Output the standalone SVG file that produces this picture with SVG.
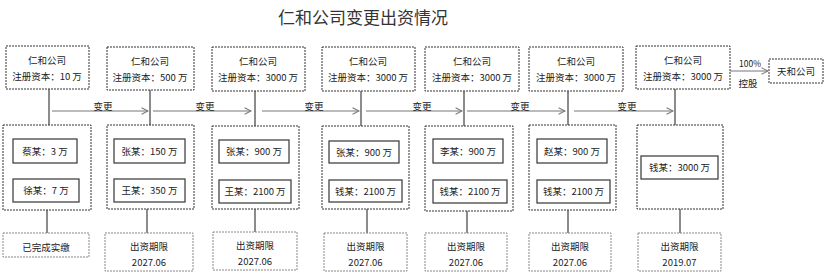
<svg xmlns="http://www.w3.org/2000/svg" width="830" height="275" viewBox="0 0 830 275">
<defs>
<style>
text{font-family:"Noto Sans CJK SC","Liberation Sans",sans-serif;font-size:9.5px;fill:#222;text-anchor:middle}
.title{font-size:17px;fill:#333}
.dbox{fill:#fff;stroke:#333;stroke-width:1;stroke-dasharray:2 1}
.gbox{fill:#fff;stroke:#888;stroke-width:1;stroke-dasharray:2 1}
.ibox{fill:#fff;stroke:#444;stroke-width:1.3}
.vl{stroke:#666;stroke-width:1.5;fill:none}
.ar{stroke:#777;stroke-width:1;fill:none;marker-end:url(#ah)}
</style>
<marker id="ah" viewBox="0 0 10 10" refX="9" refY="5" markerWidth="8" markerHeight="8" markerUnits="userSpaceOnUse" orient="auto">
<path d="M1,1 L9,5 L1,9" fill="none" stroke="#777" stroke-width="1.3"/>
</marker>
</defs>
<rect width="830" height="275" fill="#fff"/>
<text class="title" x="363" y="24">仁和公司变更出资情况</text>

<g id="connectors">
<line class="vl" x1="49" y1="89" x2="49" y2="125"/>
<line class="vl" x1="150" y1="90" x2="150" y2="125"/>
<line class="vl" x1="255" y1="91" x2="255" y2="126"/>
<line class="vl" x1="361" y1="91" x2="361" y2="126"/>
<line class="vl" x1="464" y1="91" x2="464" y2="126"/>
<line class="vl" x1="568" y1="91" x2="568" y2="125"/>
<line class="vl" x1="675" y1="89" x2="675" y2="125"/>
<line class="vl" x1="47" y1="210" x2="47" y2="233"/>
<line class="vl" x1="147" y1="209" x2="147" y2="233"/>
<line class="vl" x1="255" y1="209" x2="255" y2="232"/>
<line class="vl" x1="367" y1="209" x2="367" y2="233"/>
<line class="vl" x1="467" y1="211" x2="467" y2="233"/>
<line class="vl" x1="568" y1="210" x2="568" y2="233"/>
<line class="vl" x1="680" y1="209" x2="680" y2="233"/>
<line class="ar" x1="52" y1="111" x2="148" y2="111"/>
<line class="ar" x1="153" y1="111" x2="251" y2="111"/>
<line class="ar" x1="262" y1="111" x2="359" y2="111"/>
<line class="ar" x1="366" y1="111" x2="462" y2="111"/>
<line class="ar" x1="467" y1="111" x2="565" y2="111"/>
<line class="ar" x1="574" y1="111" x2="673" y2="111"/>
<line class="ar" x1="730" y1="71" x2="768" y2="71"/>
<text x="103" y="109.5">变更</text>
<text x="205" y="109.5">变更</text>
<text x="314" y="109.5">变更</text>
<text x="422" y="109.5">变更</text>
<text x="520" y="109.5">变更</text>
<text x="627" y="109.5">变更</text>
<text x="750" y="67" style="font-size:8.5px">100%</text>
<text x="748" y="87">控股</text>
</g>

<g id="company1"><rect class="dbox" x="6" y="46" width="83" height="43"/><text x="47" y="64">仁和公司</text><text x="47" y="80">注册资本：10 万</text></g>
<g id="company2"><rect class="dbox" x="107" y="47" width="87" height="43"/><text x="150" y="65">仁和公司</text><text x="150" y="81">注册资本：500 万</text></g>
<g id="company3"><rect class="dbox" x="212" y="47" width="93" height="44"/><text x="258" y="65">仁和公司</text><text x="258" y="81">注册资本：3000 万</text></g>
<g id="company4"><rect class="dbox" x="322" y="47" width="93" height="44"/><text x="368" y="65">仁和公司</text><text x="368" y="81">注册资本：3000 万</text></g>
<g id="company5"><rect class="dbox" x="425" y="47" width="94" height="44"/><text x="472" y="65">仁和公司</text><text x="472" y="81">注册资本：3000 万</text></g>
<g id="company6"><rect class="dbox" x="529" y="47" width="94" height="44"/><text x="576" y="65">仁和公司</text><text x="576" y="81">注册资本：3000 万</text></g>
<g id="company7"><rect class="dbox" x="636" y="46" width="94" height="43"/><text x="683" y="64">仁和公司</text><text x="683" y="80">注册资本：3000 万</text></g>
<g id="tianhe"><rect class="dbox" x="769" y="59" width="54" height="24"/><text x="796" y="74.5">天和公司</text></g>

<g id="holders1"><rect class="dbox" x="3" y="125" width="88" height="85"/>
<rect class="ibox" x="13" y="139" width="64" height="24"/><text x="45" y="154.5">蔡某：3 万</text>
<rect class="ibox" x="13" y="179" width="66" height="23"/><text x="46" y="194">徐某：7 万</text></g>
<g id="holders2"><rect class="dbox" x="107" y="125" width="87" height="84"/>
<rect class="ibox" x="114" y="139" width="71" height="24"/><text x="149.5" y="154.5">张某：150 万</text>
<rect class="ibox" x="114" y="179" width="71" height="23"/><text x="149.5" y="194">王某：350 万</text></g>
<g id="holders3"><rect class="dbox" x="212" y="126" width="87" height="83"/>
<rect class="ibox" x="219" y="140" width="70" height="23"/><text x="254" y="155">张某：900 万</text>
<rect class="ibox" x="219" y="180" width="72" height="23"/><text x="255" y="195">王某：2100 万</text></g>
<g id="holders4"><rect class="dbox" x="322" y="126" width="87" height="83"/>
<rect class="ibox" x="329" y="141" width="70" height="22"/><text x="364" y="155.5">张某：900 万</text>
<rect class="ibox" x="329" y="180" width="73" height="22"/><text x="365.5" y="194.5">钱某：2100 万</text></g>
<g id="holders5"><rect class="dbox" x="425" y="126" width="88" height="85"/>
<rect class="ibox" x="433" y="139" width="70" height="24"/><text x="468" y="154.5">李某：900 万</text>
<rect class="ibox" x="433" y="180" width="74" height="23"/><text x="470" y="195">钱某：2100 万</text></g>
<g id="holders6"><rect class="dbox" x="529" y="125" width="87" height="85"/>
<rect class="ibox" x="537" y="139" width="70" height="24"/><text x="572" y="154.5">赵某：900 万</text>
<rect class="ibox" x="537" y="180" width="73" height="23"/><text x="573.5" y="195">钱某：2100 万</text></g>
<g id="holders7"><rect class="dbox" x="637" y="125" width="86" height="84"/>
<rect class="ibox" x="641" y="156" width="77" height="23"/><text x="679.5" y="171">钱某：3000 万</text></g>

<g id="term1"><rect class="gbox" x="3" y="233" width="86" height="24"/><text x="46" y="250.5">已完成实缴</text></g>
<g id="term2"><rect class="gbox" x="105" y="233" width="88" height="38"/><text x="149" y="249.5">出资期限</text><text x="149" y="266">2027.06</text></g>
<g id="term3"><rect class="gbox" x="213" y="232" width="84" height="38"/><text x="255" y="248.5">出资期限</text><text x="255" y="265">2027.06</text></g>
<g id="term4"><rect class="gbox" x="324" y="233" width="83" height="38"/><text x="365.5" y="249.5">出资期限</text><text x="365.5" y="266">2027.06</text></g>
<g id="term5"><rect class="gbox" x="425" y="233" width="82" height="38"/><text x="466" y="249.5">出资期限</text><text x="466" y="266">2027.06</text></g>
<g id="term6"><rect class="gbox" x="529" y="233" width="82" height="38"/><text x="570" y="249.5">出资期限</text><text x="570" y="266">2027.06</text></g>
<g id="term7"><rect class="gbox" x="638" y="233" width="83" height="38"/><text x="679.5" y="249.5">出资期限</text><text x="679.5" y="266">2019.07</text></g>
</svg>
